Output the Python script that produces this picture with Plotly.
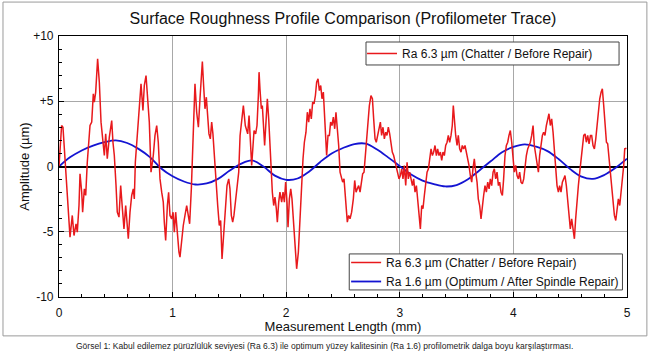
import plotly.graph_objects as go

# ---------------- data ----------------
red_x = [0.0, 0.006, 0.023, 0.035, 0.062, 0.076, 0.097, 0.117, 0.132, 0.150, 0.161, 0.176, 0.185, 0.200, 0.208,
         0.223, 0.235, 0.249, 0.273, 0.288, 0.302, 0.311, 0.323, 0.340, 0.355, 0.370, 0.384, 0.399, 0.411, 0.425,
         0.443, 0.464, 0.475, 0.487, 0.502, 0.513, 0.528, 0.543, 0.558, 0.572, 0.587, 0.599, 0.610, 0.625, 0.640,
         0.654, 0.663, 0.672, 0.692, 0.704, 0.722, 0.739, 0.751, 0.766, 0.780, 0.795, 0.810,
         0.830, 0.845, 0.860, 0.874, 0.889, 0.904, 0.918, 0.927, 0.939, 0.954, 0.965, 0.977, 0.992, 1.004, 1.015,
         1.027, 1.042, 1.056, 1.065, 1.080, 1.094, 1.109, 1.124, 1.138, 1.150, 1.165, 1.177, 1.189, 1.197, 1.212,
         1.227, 1.241, 1.253, 1.262, 1.273, 1.285, 1.297, 1.309, 1.320, 1.332, 1.344, 1.355, 1.367, 1.382, 1.397,
         1.411, 1.423, 1.435, 1.450, 1.464, 1.479, 1.494, 1.505, 1.517, 1.529, 1.540, 1.552, 1.567, 1.582, 1.594,
         1.608, 1.623, 1.640,
         1.661, 1.673, 1.684, 1.696, 1.708, 1.717, 1.731, 1.743, 1.755, 1.761, 1.769, 1.781, 1.790, 1.802, 1.810,
         1.822, 1.834, 1.846, 1.857, 1.866, 1.878, 1.890, 1.901, 1.913, 1.922, 1.934, 1.945, 1.960, 1.972, 1.984,
         1.995, 2.007, 2.016, 2.028, 2.040, 2.051, 2.063, 2.077, 2.092, 2.107, 2.121, 2.136, 2.148, 2.160, 2.174,
         2.186, 2.198, 2.209, 2.221, 2.233, 2.245, 2.257, 2.268, 2.280, 2.292, 2.304, 2.315, 2.327, 2.336, 2.345,
         2.356, 2.368, 2.380, 2.391, 2.403, 2.415, 2.427, 2.438, 2.450, 2.462, 2.474,
         2.497, 2.509, 2.526, 2.538, 2.550, 2.562, 2.576, 2.591, 2.603, 2.615, 2.626, 2.638, 2.650, 2.661, 2.673,
         2.685, 2.697, 2.709, 2.720, 2.732, 2.746, 2.759, 2.770, 2.782, 2.793, 2.805, 2.817, 2.829, 2.840, 2.852,
         2.864, 2.876, 2.887, 2.899, 2.911, 2.923, 2.934, 2.946, 2.958, 2.970, 2.981, 2.993, 3.005, 3.017, 3.028,
         3.040, 3.052, 3.064, 3.075, 3.087, 3.099, 3.111, 3.122, 3.134, 3.146, 3.158, 3.169, 3.181, 3.193, 3.204,
         3.216, 3.228, 3.240, 3.252, 3.263, 3.275, 3.287, 3.298, 3.310, 3.322,
         3.333, 3.345, 3.357, 3.369, 3.380, 3.392, 3.404, 3.416, 3.427, 3.439, 3.451, 3.462, 3.471, 3.480, 3.492,
         3.504, 3.515, 3.527, 3.539, 3.550, 3.562, 3.574, 3.586, 3.598, 3.609, 3.621, 3.633, 3.644, 3.656, 3.668,
         3.680, 3.691, 3.703, 3.715, 3.727, 3.738, 3.750, 3.762, 3.774, 3.786, 3.797, 3.809, 3.821, 3.832, 3.844,
         3.856, 3.868, 3.879, 3.891, 3.903, 3.914, 3.926, 3.938, 3.950, 3.961, 3.973, 3.985, 3.996, 4.008, 4.020,
         4.032, 4.044, 4.055, 4.067, 4.079, 4.091, 4.102, 4.114, 4.126, 4.137, 4.149,
         4.161, 4.173, 4.184, 4.196, 4.208, 4.220, 4.231, 4.243, 4.255, 4.266, 4.278, 4.290, 4.302, 4.313, 4.325,
         4.337, 4.349, 4.360, 4.372, 4.384, 4.396, 4.407, 4.419, 4.431, 4.443, 4.454, 4.466, 4.478, 4.490, 4.501,
         4.513, 4.525, 4.537, 4.548, 4.560, 4.572, 4.584, 4.596, 4.607, 4.619, 4.631, 4.642, 4.654, 4.666, 4.678,
         4.689, 4.701, 4.713, 4.725, 4.736, 4.748, 4.760, 4.772, 4.783, 4.795, 4.807, 4.819, 4.830, 4.842, 4.854,
         4.866, 4.877, 4.889, 4.901, 4.912, 4.924, 4.936, 4.948, 4.960, 4.971, 4.980, 4.995]
red_y = [0.0, 0.84, 3.14, 3.01, -0.95, -2.73, -5.41, -3.75, -5.29, -4.39, -5.03, -2.99, -0.56, -1.97, -3.50,
         -1.71, -2.22, 0.33, 3.14, 3.40, 5.57, 4.93, 5.70, 8.25, 6.46, 3.40, 2.38, 0.84, 2.50, 0.59,
         2.25, 3.52, 1.86, 0.84, -1.46, -3.50, -3.88, -1.46, -3.24, -4.78, -2.99, -4.52, -5.54, -3.50, -2.22,
         -1.71, -2.48, 0.33, 2.63, 4.16, 6.33, 4.29, 6.21, 6.97, 5.44, 3.40, -0.43,
         0.84, 2.38, 3.14, 1.86, -0.95, -1.97, -2.73, -4.27, -5.67, -2.99, -1.97, -3.75, -4.01, -3.50, -5.03,
         -3.50, -5.54, -6.56, -6.95, -5.54, -4.52, -3.75, -2.99, -3.75, -4.39, -1.71, 1.61, 4.16, 6.33, 4.16,
         3.01, 5.19, 6.72, 8.05, 6.21, 4.42, 5.31, 4.16, 2.50, 2.12, 3.40, 2.50, 0.84, -1.71, -2.99,
         -4.52, -4.14, -7.08, -5.03, -3.75, -1.46, -0.95, -1.71, -3.75, -4.27, -3.75, -2.73, -1.97, -0.43, 2.38,
         3.78, 4.67, 3.14,
         2.50, 3.91, 2.38, 0.08, 1.61, 2.76, 2.50, 3.14, 5.44, 7.23, 5.95, 4.42, 4.67, 2.89, 1.61,
         3.40, 5.19, 3.65, 1.61, -0.43, -1.97, -2.99, -2.35, -3.24, -4.27, -2.73, -1.97, -2.73, -1.97, -2.73,
         -1.20, -2.73, -4.65, -2.48, -1.71, -2.48, -4.01, -5.54, -7.84, -6.56, -3.75, -0.95, 0.59, 1.86, 2.63,
         4.16, 3.40, 4.42, 3.65, 4.93, 4.80, 5.44, 6.46, 6.72, 5.82, 6.21, 5.19, 5.70, 4.16, 2.12,
         0.84, 2.38, 2.38, 3.40, 3.14, 3.78, 2.89, 4.16, 3.14, 1.61, -0.43,
         -1.20, -0.95, -2.73, -4.27, -3.75, -4.01, -3.50, -2.48, -1.07, -1.97, -1.71, -1.46, -1.97, -1.20, -0.56,
         -0.43, 0.84, 2.38, 3.65, 4.67, 5.44, 5.19, 3.65, 2.12, 1.86, 2.38, 3.14, 3.40, 2.38, 3.01,
         2.12, 2.63, 2.38, 3.01, 2.50, 1.86, 1.10, 0.84, 0.33, 0.08, -0.43, -0.95, -0.69, -0.18, -0.95,
         0.08, -1.46, 0.33, -0.95, -0.43, -0.95, -1.46, -0.95, -1.97, -1.46, -2.48, -3.50, -4.78, -2.99, -3.24,
         -2.22, -1.46, -0.43, -0.18, 0.59, 1.35, 0.84, 1.10, 1.61, 0.84,
         1.35, 0.84, 1.10, 0.46, 1.10, 0.84, 1.61, 1.86, 2.38, 1.86, 2.38, 3.14, 4.67, 3.40, 2.38,
         1.61, 2.38, 1.35, 1.10, 1.61, 1.35, 1.61, 1.10, 0.33, 0.08, -0.69, -1.20, -0.18, 0.59, -0.43,
         -1.20, -2.48, -2.99, -4.01, -2.73, -2.22, -1.46, -1.97, -1.20, -1.71, -0.95, -1.46, -0.43, -0.18, -0.95,
         -0.43, -1.46, -1.20, -1.97, -2.22, -0.95, 0.84, 1.61, 1.86, 2.38, 2.76, 1.86, 0.33, -0.43, 0.08,
         -0.69, -0.95, -0.43, -1.20, -1.33, -0.95, 0.08, 0.84, 1.35, 1.61, 1.86,
         2.38, 3.14, 1.61, 0.84, 0.33, -0.43, 0.84, 1.61, 2.38, 2.63, 2.38, 3.14, 3.65, 4.04, 3.14,
         3.65, 2.63, 1.35, -0.18, -1.46, -1.97, -1.46, -1.97, -1.20, -0.95, -0.69, -1.46, -2.73, -4.01, -4.78,
         -4.01, -4.65, -5.54, -4.01, -2.48, -1.46, -0.43, 0.59, 1.61, 2.38, 2.50, 1.86, 2.38, 1.74, 2.38,
         2.38, 1.61, 1.35, 2.12, 3.14, 4.16, 5.19, 5.70, 5.95, 4.67, 3.40, 1.86, 1.74, 0.59, -0.43,
         -1.71, -2.99, -3.75, -4.14, -3.50, -2.48, -2.99, -1.97, -0.69, 0.08, 1.35, 1.40]

blue_x = [0.0, 0.1, 0.2, 0.3, 0.4, 0.5, 0.6, 0.7, 0.8, 0.9, 1.0, 1.1, 1.2, 1.3, 1.4, 1.5, 1.6, 1.7, 1.8, 1.9,
          2.0, 2.1, 2.2, 2.3, 2.4, 2.5, 2.6, 2.7, 2.8, 2.9, 3.0, 3.1, 3.2, 3.3, 3.4, 3.5, 3.6, 3.7, 3.8, 3.9,
          4.0, 4.1, 4.2, 4.3, 4.4, 4.5, 4.6, 4.7, 4.8, 4.9, 5.0]
blue_y = [0.0, 0.72, 1.23, 1.6, 1.86, 2.0, 1.8, 1.35, 0.72, -0.15, -0.75, -1.15, -1.38, -1.3, -0.95, -0.33, 0.2,
          0.47, 0.0, -0.7, -1.02, -0.92, -0.4, 0.35, 1.0, 1.42, 1.72, 1.75, 1.3, 0.68, 0.03, -0.62, -1.08,
          -1.35, -1.53, -1.42, -0.98, -0.3, 0.4, 1.1, 1.5, 1.69, 1.52, 1.18, 0.55, -0.2, -0.78, -0.95, -0.65,
          -0.1, 0.6]

red_name = "Ra 6.3 µm (Chatter / Before Repair)"
blue_name = "Ra 1.6 µm (Optimum / After Spindle Repair)"
y_tickvals = [10, 5, 0, -5, -10]
y_ticktext = ["+10", "+5", "0", "-5", "-10"]
x_tickvals = [0, 1, 2, 3, 4, 5]

title_text = "Surface Roughness Profile Comparison (Profilometer Trace)"
caption_text = ("Görsel 1: Kabul edilemez pürüzlülük seviyesi (Ra 6.3) ile optimum yüzey kalitesinin "
                "(Ra 1.6) profilometrik dalga boyu karşılaştırması.")

RED = "#e8191c"
BLUE = "#1414d2"
FONT = "Liberation Sans, Arial, sans-serif"

fig = go.Figure()
fig.add_trace(go.Scatter(x=blue_x, y=blue_y, mode="lines", name=blue_name,
                         line=dict(color=BLUE, width=1.8, shape="spline"),
                         legend="legend2", legendrank=2, showlegend=True))
fig.add_trace(go.Scatter(x=red_x, y=red_y, mode="lines", name=red_name,
                         line=dict(color=RED, width=1.5), legend="legend"))
# legend-only entry for the lower legend box
fig.add_trace(go.Scatter(x=[None], y=[None], mode="lines", name=red_name,
                         line=dict(color=RED, width=1.5), legend="legend2", legendrank=1))

axis_common = dict(showline=True, linecolor="black", linewidth=1.2, mirror=True,
                   ticks="inside", ticklen=5, tickcolor="black",
                   gridcolor="#a8a8a8", gridwidth=1,
                   tickfont=dict(size=12, color="#111", family=FONT))

fig.update_xaxes(range=[0, 5], tickvals=x_tickvals, ticklabelstandoff=4, zeroline=False,
                 minor=dict(dtick=0.2, ticks="inside", ticklen=3, tickcolor="black", showgrid=False),
                 title=dict(text="Measurement Length (mm)", font=dict(size=13, color="#111", family=FONT),
                            standoff=3),
                 **axis_common)
fig.update_yaxes(range=[-10, 10], tickvals=y_tickvals, ticktext=y_ticktext, ticklabelstandoff=2,
                 zeroline=True, zerolinecolor="black", zerolinewidth=1.5,
                 minor=dict(dtick=1, ticks="inside", ticklen=3, tickcolor="black", showgrid=False),
                 title=dict(text="Amplitude (µm)", font=dict(size=13, color="#111", family=FONT),
                            standoff=0),
                 **axis_common)

legend_style = dict(bgcolor="rgba(0,0,0,0)", borderwidth=0,
                    font=dict(size=12, color="#111", family=FONT), xanchor="left", yanchor="middle",
                    itemwidth=30, tracegroupgap=0)
fig.update_layout(
    width=650, height=354,
    margin=dict(l=59, r=23, t=36, b=57),
    paper_bgcolor="white", plot_bgcolor="white",
    font=dict(family=FONT, color="#111"),
    title=dict(text=title_text, x=0.5, xref="paper", y=1 - 18 / 354, yanchor="middle",
               font=dict(size=16, color="#111", family=FONT)),
    legend=dict(x=0.5335, y=0.933, **legend_style),
    legend2=dict(x=0.5055, y=0.0958, traceorder="normal", **legend_style),
    showlegend=True,
)

# legend frames (white boxes with dark border)
fig.add_shape(type="rect", xref="paper", yref="paper", x0=0.5405, x1=0.986, y0=0.889, y1=0.977,
              line=dict(color="#444", width=1), fillcolor="white", layer="above")
fig.add_shape(type="rect", xref="paper", yref="paper", x0=0.511, x1=0.992, y0=0.027, y1=0.165,
              line=dict(color="#444", width=1), fillcolor="white", layer="above")

# outer frame
fig.add_shape(type="rect", xref="paper", yref="paper", x0=-0.0986, x1=1.035, y0=-0.149, y1=1.13,
              line=dict(color="#9a9a9a", width=1), fillcolor="rgba(0,0,0,0)", layer="below")

fig.add_annotation(text=caption_text, xref="paper", yref="paper", x=0.468, y=-0.188,
                   showarrow=False, xanchor="center", yanchor="middle",
                   font=dict(size=8.5, color="#222", family="Liberation Sans Narrow, Arial Narrow, " + FONT))

fig.write_html("out.html")
